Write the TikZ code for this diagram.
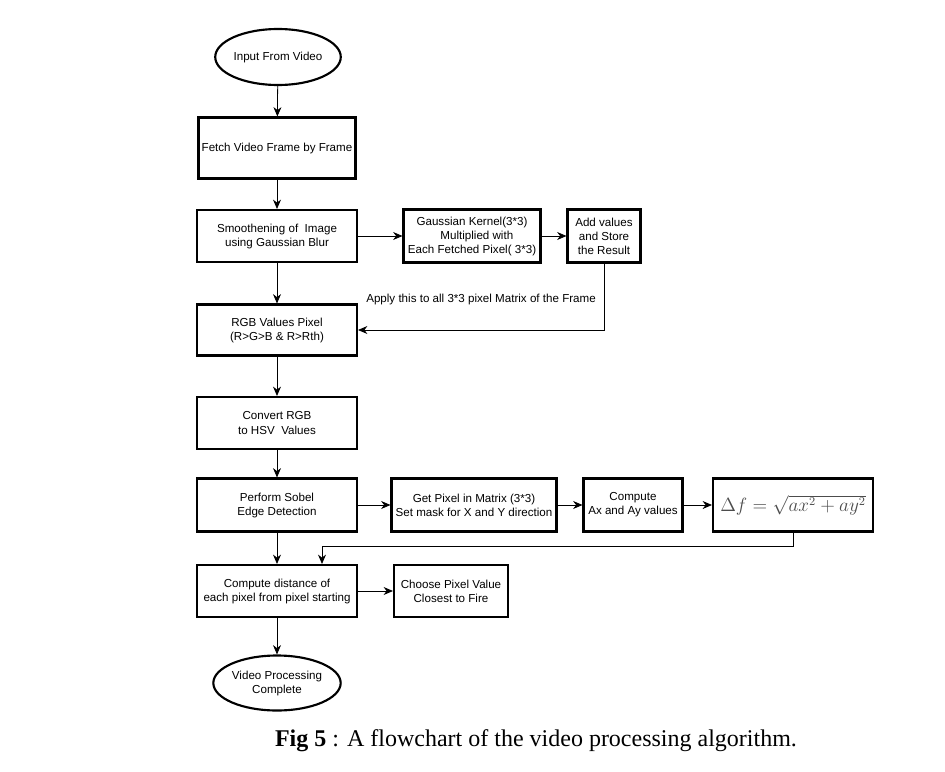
\documentclass[tikz,border=0pt]{standalone}
\usepackage{amsmath}
\usepackage{fontspec}
\setmainfont{Liberation Serif}
\setsansfont{Liberation Sans}
\usetikzlibrary{arrows.meta,positioning,calc,shapes.geometric}

\begin{document}
\begin{tikzpicture}[
    x=0.75pt,y=-0.75pt,
    box/.style={rectangle,draw,line width=1.6pt,align=center,inner sep=1pt,
      font=\sffamily\fontsize{8.7}{10.5}\selectfont},
    term/.style={ellipse,draw,line width=1.6pt,align=center,inner sep=0pt,
      font=\sffamily\fontsize{8.7}{10.5}\selectfont},
    flow/.style={->,line width=0.6pt},
    >={Stealth[length=7pt,width=6pt]}
  ]
  \useasboundingbox (0,0) rectangle (945,771);

  % main column
  \node[term,minimum width=87pt,minimum height=42pt] (input) at (278,57) {Input From Video};
  \node[box,minimum width=117.75pt,minimum height=45.75pt] (fetch) at (277,148) {Fetch Video Frame by Frame};
  \node[box,minimum width=120pt,minimum height=39pt] (smooth) at (277,236) {Smoothening of\ \ Image\\using Gaussian Blur};
  \node[box,minimum width=120pt,minimum height=38.25pt] (rgb) at (277,330) {RGB Values Pixel\\(R>G>B \& R>Rth)};
  \node[box,minimum width=120pt,minimum height=39pt] (hsv) at (277,423) {Convert RGB\\to HSV\ \ Values};
  \node[box,minimum width=120pt,minimum height=39.75pt] (sobel) at (277,505) {Perform Sobel\\Edge Detection};
  \node[box,minimum width=120pt,minimum height=39pt] (dist) at (277,591) {Compute distance of\\each pixel from pixel starting};
  \node[term,minimum width=87.75pt,minimum height=41.25pt] (done) at (277,683) {Video Processing\\Complete};

  % gaussian branch
  \node[box,minimum width=102.75pt,minimum height=39.75pt] (kernel) at (472,236) {Gaussian Kernel(3*3)\\\ \ \ Multiplied with\\Each Fetched Pixel( 3*3)};
  \node[box,minimum width=54.75pt,minimum height=39.75pt] (store) at (604,236) {Add values\\and Store\\the Result};

  % sobel branch
  \node[box,minimum width=123.75pt,minimum height=39.75pt] (mask) at (474,505) {Get Pixel in Matrix (3*3)\\Set mask for X and Y direction};
  \node[box,minimum width=74.25pt,minimum height=39.75pt] (axay) at (633,505) {Compute\\Ax and Ay values};
  \node[box,minimum width=120pt,minimum height=39.75pt,font=\fontsize{13.5}{15}\selectfont,text=black!70] (grad) at (793,505) {$\Delta f=\sqrt{ax^2+ay^2}$};

  \node[box,minimum width=85.5pt,minimum height=39pt] (fire) at (451,591) {Choose Pixel Value\\Closest to Fire};

  \coordinate (gjoin) at (322,546);

  \draw[flow] (input) -- (fetch);
  \draw[flow] (fetch) -- (smooth);
  \draw[flow] (smooth) -- (rgb);
  \draw[flow] (rgb) -- (hsv);
  \draw[flow] (hsv) -- (sobel);
  \draw[flow] (sobel) -- (dist);
  \draw[flow] (dist) -- (done);
  \draw[flow] (smooth) -- (kernel);
  \draw[flow] (kernel) -- (store);
  \draw[flow] (store.south) |- node[pos=0.75,above=15pt,font=\sffamily\fontsize{8.7}{10}\selectfont] {Apply this to all 3*3 pixel Matrix of the Frame} (rgb.east);
  \draw[flow] (sobel) -- (mask);
  \draw[flow] (mask) -- (axay);
  \draw[flow] (axay) -- (grad);
  \draw[flow] (grad.south) |- (gjoin) -- (gjoin |- dist.north);
  \draw[flow] (dist) -- (fire);

  \node[font=\fontsize{18}{21}\selectfont] (caption) at (536,741) {\textbf{Fig 5} : A flowchart of the video processing algorithm.};
\end{tikzpicture}
\end{document}
